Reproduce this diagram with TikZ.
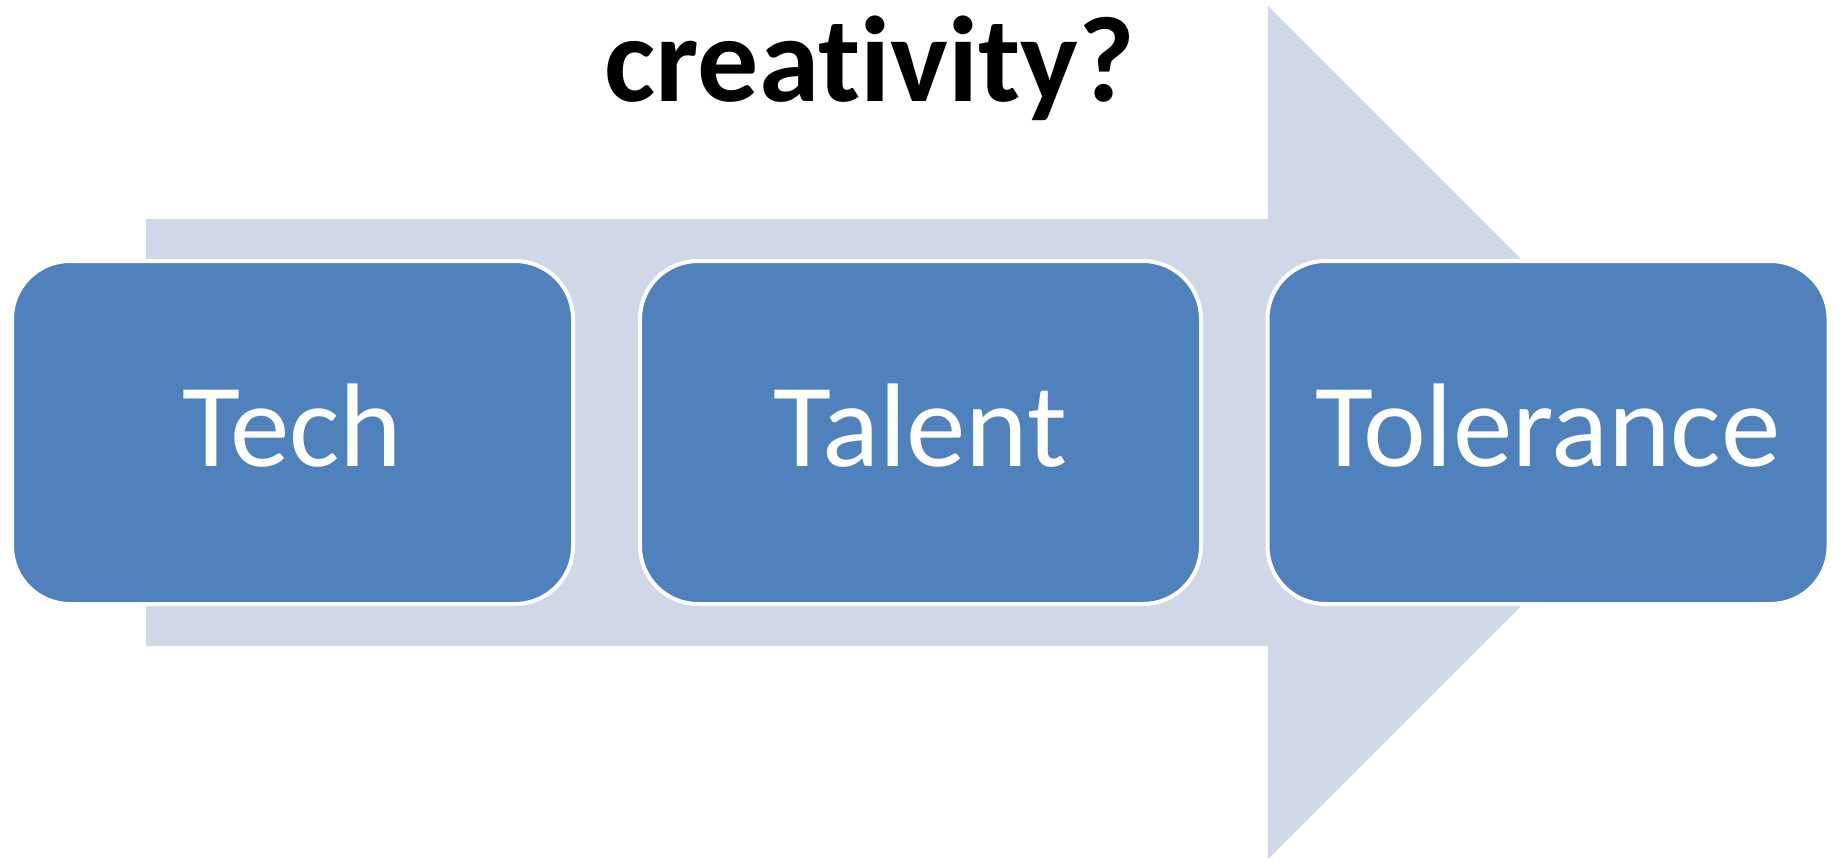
\documentclass[tikz,border=0pt]{standalone}
\usepackage{fontspec}
\setmainfont{Carlito}[Ligatures=NoCommon]
\definecolor{boxblue}{HTML}{4F81BD}
\definecolor{arrowfill}{HTML}{D0D8E8}
\begin{document}
\begin{tikzpicture}[x=1pt,y=-1pt,
  stagebox/.style={draw=white, line width=4pt, fill=boxblue, rounded corners=58pt,
    minimum width=561pt, minimum height=343pt, inner sep=0pt, text=white,
    text height=80pt, text depth=12pt,
    font=\fontsize{119}{119}\selectfont},
  heading/.style={font=\bfseries\fontsize{122}{122}\selectfont, text=black, inner sep=0pt}]
\useasboundingbox (0,0) rectangle (1833,861);
% background arrow
\fill[arrowfill] (146,219) -- (1268,219) -- (1268,6) -- (1694.5,432.5)
  -- (1268,859) -- (1268,646) -- (146,646) -- cycle;
% stages
\node[stagebox] (tech) at (292.5,432.5) {Tech};
\node[stagebox] (talent) at (920.5,432.5) {Talent};
\node[stagebox] (tolerance) at (1548,432.5) {Tolerance};
% title
\node[heading, anchor=base] (title) at (870,102) {creativity?};
\end{tikzpicture}
\end{document}
